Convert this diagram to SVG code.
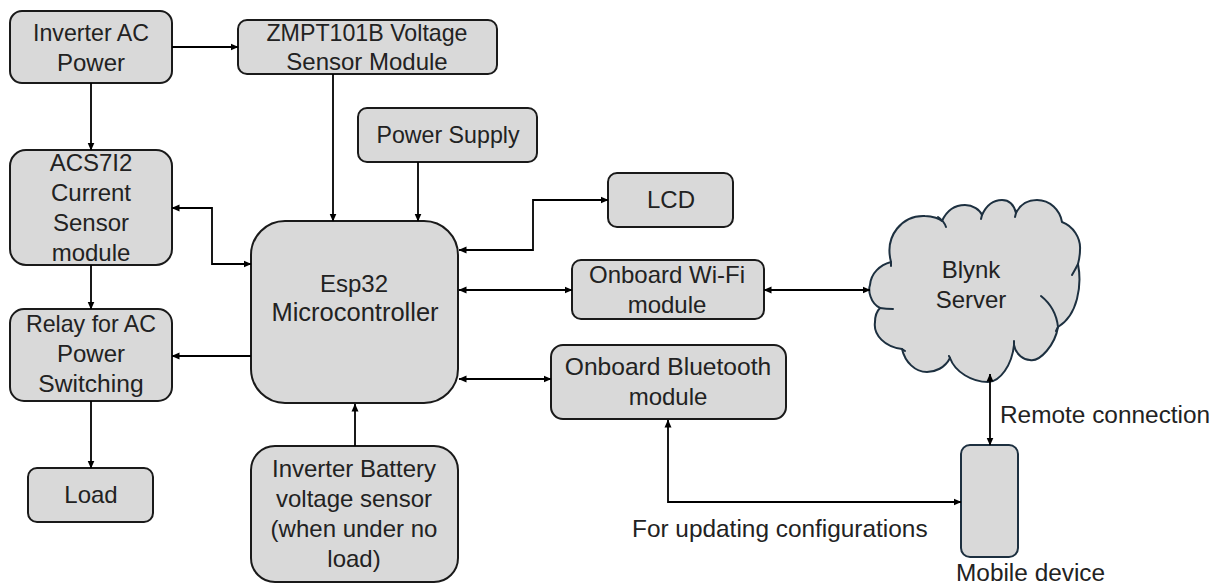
<svg xmlns="http://www.w3.org/2000/svg" width="1220" height="585" viewBox="0 0 1220 585">
<defs><marker id="a" markerWidth="8" markerHeight="8" refX="7.5" refY="4" orient="auto-start-reverse" markerUnits="userSpaceOnUse"><path d="M0 0.5L8 4L0 7.5z" fill="#000"/></marker></defs>
<style>
.n{fill:#d9d9d9;stroke:#1a1a1a;stroke-width:2}
.t{font-family:"Liberation Sans",Arial,sans-serif;font-size:24px;fill:#222;text-anchor:middle}
.m{font-size:23.2px}
.w{font-size:24.6px}
.l{text-anchor:start;font-size:24.4px}
.c path{fill:none;stroke:#000;stroke-width:1.8;marker-end:url(#a)}
.c path.b{marker-start:url(#a)}
.k{fill:#d9d9d9;stroke:#1d3040;stroke-width:2;stroke-linejoin:round}
.s{fill:none;stroke:#1d3040;stroke-width:2;stroke-linecap:round}
</style>
<rect width="1220" height="585" fill="#fff"/>
<g id="inverter"><rect class="n" x="10" y="11" width="162" height="72" rx="12"/><text class="t m" x="91" y="41">Inverter AC</text><text class="t" x="91" y="71">Power</text></g>
<g id="zmpt"><rect class="n" x="238" y="20" width="259" height="54" rx="9"/><text class="t m" x="367" y="41">ZMPT101B Voltage</text><text class="t" x="367" y="70">Sensor Module</text></g>
<g id="supply"><rect class="n" x="358" y="108" width="179" height="54" rx="9"/><text class="t m" x="448" y="143">Power Supply</text></g>
<g id="acs"><rect class="n" x="10" y="150" width="162" height="115" rx="16"/><text class="t" x="91" y="171">ACS7I2</text><text class="t" x="91" y="201">Current</text><text class="t" x="91" y="231">Sensor</text><text class="t" x="91" y="261">module</text></g>
<g id="lcd"><rect class="n" x="608" y="173" width="125" height="54" rx="9"/><text class="t" x="671" y="208">LCD</text></g>
<g id="esp"><rect class="n" x="251" y="221" width="207" height="182" rx="34"/><text class="t" x="354" y="292">Esp32</text><text class="t" style="font-size:25.5px" x="355" y="321">Microcontroller</text></g>
<g id="wifi"><rect class="n" x="572" y="260" width="192" height="59" rx="9"/><text class="t" x="667" y="283">Onboard Wi-Fi</text><text class="t" x="667" y="313">module</text></g>
<g id="relay"><rect class="n" x="10" y="309" width="162" height="92" rx="14"/><text class="t m" x="91" y="332">Relay for AC</text><text class="t" x="91" y="362">Power</text><text class="t w" x="91" y="392">Switching</text></g>
<g id="bt"><rect class="n" x="551" y="345" width="235" height="74" rx="12"/><text class="t w" x="668" y="375">Onboard Bluetooth</text><text class="t" x="668" y="405">module</text></g>
<g id="load"><rect class="n" x="28" y="468" width="125" height="54" rx="9"/><text class="t" x="91" y="503">Load</text></g>
<g id="battery"><rect class="n" x="251" y="446" width="207" height="136" rx="24"/><text class="t" x="354" y="477">Inverter Battery</text><text class="t" x="354" y="507">voltage sensor</text><text class="t" x="354" y="537">(when under no</text><text class="t" x="354" y="567">load)</text></g>
<g id="mobile"><rect x="961" y="445" width="57" height="112" rx="9" fill="#d9d9d9" stroke="#1d3040" stroke-width="2"/></g>
<g id="blynk"><path class="k" d="M891 262C884 235 903 215 925 216C933 216 940 219 942 221C947 210 955 205 965 205C973 205 980 210 982 215C987 204 995 200 1002 200C1009 200 1014 205 1016 213C1021 203 1030 200 1037 200C1050 200 1060 210 1062 222C1073 226 1081 238 1080 250C1080 255 1079 260 1078 264C1082 285 1078 315 1058 327C1055 345 1040 362 1030 360C1024 360 1016 355 1014 345C1012 365 1000 382 988 382C972 382 955 372 950 358C945 368 935 372 927 372C915 372 905 362 902 349C885 347 873 335 875 322C875 316 877 311 880 308C870 303 868 290 870 285C871 273 880 265 891 262Z"/><path class="s" d="M938 217Q944 221 946 227M982 215L981 219M1016 213L1015 217M1078 264Q1075 270 1072 275M1041 296Q1056 308 1058 327L1056 331M1014 345L1014 341M950 358L949 356M902 349L905 351M880 308Q886 309 893 309M891 262L891 266"/><text class="t" x="971" y="278">Blynk</text><text class="t" x="971" y="308">Server</text></g>
<g class="c" id="connectors">
<path d="M172 47H238"/>
<path d="M91 83V150"/>
<path d="M333 74V221"/>
<path d="M418 162V221"/>
<path class="b" d="M172 208H212V264H251"/>
<path d="M91 265V309"/>
<path d="M251 356H172"/>
<path d="M91 401V468"/>
<path d="M355 446V404"/>
<path class="b" d="M459 250H533V200H608"/>
<path class="b" d="M459 290H572"/>
<path class="b" d="M459 379H551"/>
<path class="b" d="M764 290H870"/>
<path class="b" d="M990 374V445"/>
<path class="b" d="M668 420V502H961"/>
</g>
<text class="t l" x="1000" y="423">Remote connection</text>
<text class="t l" x="632" y="537">For updating configurations</text>
<text class="t l" x="956" y="581">Mobile device</text>
</svg>
